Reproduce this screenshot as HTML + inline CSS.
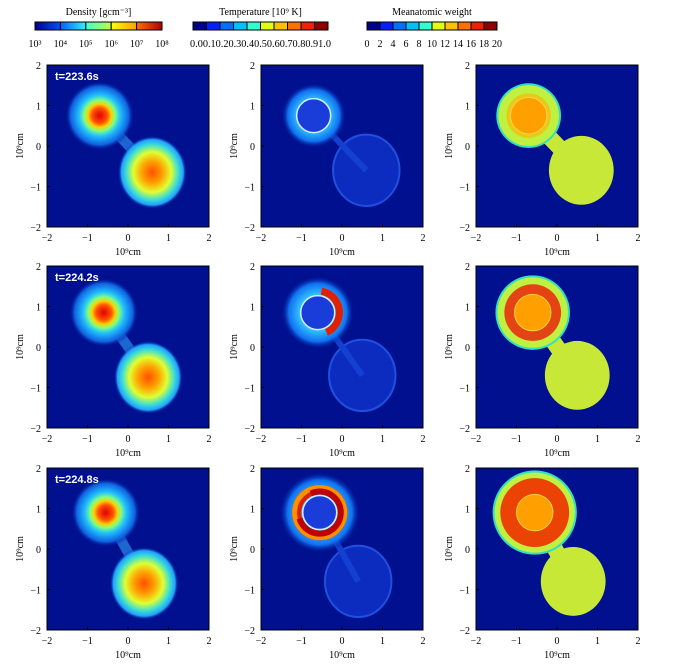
<!DOCTYPE html>
<html><head><meta charset="utf-8">
<style>
html,body{margin:0;padding:0;background:#fff;width:675px;height:666px;overflow:hidden}
svg{display:block;font-family:"Liberation Serif",serif}
</style></head>
<body>
<svg id="fig" width="675" height="666" viewBox="0 0 675 666" xmlns="http://www.w3.org/2000/svg">
<defs>
 <radialGradient id="dens1">
  <stop offset="0" stop-color="#e00000"/><stop offset="0.22" stop-color="#ff5000"/>
  <stop offset="0.34" stop-color="#ffd000"/><stop offset="0.45" stop-color="#80ff80"/>
  <stop offset="0.6" stop-color="#20c0ff"/><stop offset="0.85" stop-color="#1060e0"/>
  <stop offset="1" stop-color="#00108f" stop-opacity="0"/>
 </radialGradient>
 <radialGradient id="dens2">
  <stop offset="0" stop-color="#ff5000"/><stop offset="0.3" stop-color="#ffa000"/>
  <stop offset="0.55" stop-color="#e0ff30"/><stop offset="0.75" stop-color="#40e0d0"/>
  <stop offset="0.9" stop-color="#20a0ff"/><stop offset="1" stop-color="#00108f" stop-opacity="0"/>
 </radialGradient>
 <radialGradient id="temphalo">
  <stop offset="0.5" stop-color="#30c0ff"/><stop offset="0.8" stop-color="#1070f0"/>
  <stop offset="1" stop-color="#00108f" stop-opacity="0"/>
 </radialGradient>
 <linearGradient id="seg0" x1="0" x2="1"><stop offset="0" stop-color="#00008f"/><stop offset="1" stop-color="#0050ff"/></linearGradient>
 <linearGradient id="seg1" x1="0" x2="1"><stop offset="0" stop-color="#0060ff"/><stop offset="1" stop-color="#30f0ff"/></linearGradient>
 <linearGradient id="seg2" x1="0" x2="1"><stop offset="0" stop-color="#40ffd0"/><stop offset="1" stop-color="#c0ff40"/></linearGradient>
 <linearGradient id="seg3" x1="0" x2="1"><stop offset="0" stop-color="#ffff00"/><stop offset="1" stop-color="#ffa000"/></linearGradient>
 <linearGradient id="seg4" x1="0" x2="1"><stop offset="0" stop-color="#ff7000"/><stop offset="1" stop-color="#b00000"/></linearGradient>
</defs>
<g id="colorbars"></g>
<g id="panels"></g>
</svg>
<script>
// ---- data ----
var colTitles = ["Density [gcm\u207B\u00B3]", "Temperature [10\u2079 K]", "Meanatomic weight"];
var densTicks = ["10\u00B3","10\u2074","10\u2075","10\u2076","10\u2077","10\u2078"];
var tempTicks = ["0.0","0.1","0.2","0.3","0.4","0.5","0.6","0.7","0.8","0.9","1.0"];
var muTicks = ["0","2","4","6","8","10","12","14","16","18","20"];
var axisTicks = [-2,-1,0,1,2];
var times = ["t=223.6s","t=224.2s","t=224.8s"];
var star1X = [-0.7,-0.6,-0.55];
var star1Y = [0.75,0.85,0.9];
var star2X = [0.6,0.5,0.4];
var star2Y = [-0.6,-0.7,-0.8];
var hotLevel = [0.1,0.7,1.0];

var jet=["#00008f","#0020ff","#0070ff","#00c0ff","#30ffd0","#90ff70","#e0ff10","#ffc000","#ff7000","#f02000","#900000"];
var NS="http://www.w3.org/2000/svg";
function el(tag,attrs,parent,txt){var e=document.createElementNS(NS,tag);for(var k in attrs)e.setAttribute(k,attrs[k]);if(txt!==undefined)e.textContent=txt;parent.appendChild(e);return e;}

// ---- colorbars ----
var cb=document.getElementById('colorbars');
var cbX=[35,193,367],cbW=[127,135,130];
for(var c=0;c<3;c++){
 var g=el('g',{},cb);
 
 
 var t=el('text',{x:cbX[c]+cbW[c]/2,y:15,'text-anchor':'middle','font-size':'10'},g,colTitles[c]);
 
 
 var ticks=c==0?densTicks:(c==1?tempTicks:muTicks);
 var nseg=ticks.length-1;
 for(var i=0;i<nseg;i++){
  var segW=cbW[c]/nseg;
  var fill = c==0 ? 'url(#seg'+i+')' : jet[Math.round(i*10/(nseg-1))];
  var r=el('rect',{x:cbX[c]+i*segW,y:22,width:segW,height:8,fill:fill,stroke:'#000','stroke-width':1},g);
  
  
 }
 if(c==1){
  var tl=el('text',{x:cbX[c]+cbW[c]/2,y:47,'text-anchor':'middle','font-size':'10',textLength:cbW[c]+6,lengthAdjust:'spacingAndGlyphs'},g,tempTicks.join(''));
  
  
 } else {
  for(var i=0;i<ticks.length;i++){
   var tt=el('text',{x:cbX[c]+i*cbW[c]/nseg,y:47,'text-anchor':'middle','font-size':'10'},g,ticks[i]);
   
   
  }
 }
}

// ---- panels ----
var panelsG=document.getElementById('panels');
var colX=[47,261,476], rowY=[65,266,468], S=162;
function px(c,v){return colX[c]+(v+2)/4*S;}
function py(r,v){return rowY[r]+(2-v)/4*S;}
var U=S/4;
for(var r=0;r<3;r++)for(var c=0;c<3;c++){
 var g=el('g',{},panelsG);
 
 
 var cid='clip'+r+c;
 var cp=el('clipPath',{id:cid},g);el('rect',{x:colX[c],y:rowY[r],width:S,height:S},cp);
 var body=el('g',{'clip-path':'url(#'+cid+')'},g);
 el('rect',{x:colX[c],y:rowY[r],width:S,height:S,fill:'#00108f'},body);
 var x1=px(c,star1X[r]),y1=py(r,star1Y[r]),x2=px(c,star2X[r]),y2=py(r,star2Y[r]);
 if(c==0){
  el('line',{x1:x1,y1:y1,x2:x2,y2:y2,stroke:'#30a0ff','stroke-width':10,opacity:0.6},body);
  var a=el('circle',{cx:x1,cy:y1,r:0.85*U,fill:'url(#dens1)'},body);
  
  var b=el('ellipse',{cx:x2,cy:y2+2,rx:0.85*U,ry:0.9*U,fill:'url(#dens2)'},body);
  
 } else if(c==1){
  el('ellipse',{cx:x2,cy:y2,rx:0.82*U,ry:0.88*U,fill:'#0c2cc0',stroke:'#2050e0','stroke-width':2},body);
  el('line',{x1:x1,y1:y1,x2:x2,y2:y2,stroke:'#1440d0','stroke-width':6},body);
  el('circle',{cx:x1,cy:y1,r:(0.8+0.1*r)*U,fill:'url(#temphalo)'},body);
  if(hotLevel[r]>0.3){
   el('circle',{cx:x1,cy:y1,r:(0.45+0.12*hotLevel[r])*U,fill:'none',stroke:'#e02000','stroke-width':(0.18*hotLevel[r]+0.05)*U,'stroke-dasharray':(hotLevel[r]>0.9?'200 0':'55 200'),transform:'rotate(-80 '+x1+' '+y1+')'},body);
  }
  if(hotLevel[r]>0.9){
   el('circle',{cx:x1,cy:y1,r:0.62*U,fill:'none',stroke:'#ff9000','stroke-width':5},body);
   el('circle',{cx:x1,cy:y1,r:0.52*U,fill:'none',stroke:'#c00000','stroke-width':6,'stroke-dasharray':'60 30'},body);
  }
  el('circle',{cx:x1,cy:y1,r:0.42*U,fill:'#1a3cd8',stroke:'#d0f0ff','stroke-width':1.5},body);
 } else {
  el('ellipse',{cx:x2,cy:y2,rx:0.8*U,ry:0.85*U,fill:'#c8e838'},body);
  el('line',{x1:x1,y1:y1,x2:x2,y2:y2,stroke:'#c8e838','stroke-width':16},body);
  el('circle',{cx:x1,cy:y1,r:(0.8+0.12*r)*U,fill:'#30e0c0'},body);
  el('circle',{cx:x1,cy:y1,r:(0.75+0.12*r)*U,fill:'#c0f040'},body);
  el('circle',{cx:x1,cy:y1,r:(0.55+0.15*r)*U,fill:r==0?'#ffb000':(r==1?'#e83010':'#f03000'),opacity:r==0?0.6:0.9},body);
  var cr=el('circle',{cx:x1,cy:y1,r:0.45*U,fill:'#ffa000',stroke:'#ffd040','stroke-width':1},body);
  
 }
 el('rect',{x:colX[c],y:rowY[r],width:S,height:S,fill:'none',stroke:'#000','stroke-width':1},g);
 for(var i=0;i<axisTicks.length;i++){
  var v=axisTicks[i];
  var tx=el('text',{x:px(c,v),y:rowY[r]+S+14,'text-anchor':'middle','font-size':'10'},g,v<0?'\u2212'+(-v):String(v));
  
  var ty=el('text',{x:colX[c]-6,y:py(r,v)+4,'text-anchor':'end','font-size':'10'},g,v<0?'\u2212'+(-v):String(v));
  
  el('line',{x1:px(c,v),y1:rowY[r]+S,x2:px(c,v),y2:rowY[r]+S-3,stroke:'#000'},g);
  el('line',{x1:colX[c],y1:py(r,v),x2:colX[c]+3,y2:py(r,v),stroke:'#000'},g);
 }
 var xl=el('text',{x:colX[c]+S/2,y:rowY[r]+S+28,'text-anchor':'middle','font-size':'10'},g,'10\u2079cm');
 
 var yx=colX[c]-24,yy=rowY[r]+S/2;
 var yl=el('text',{x:yx,y:yy,'text-anchor':'middle','font-size':'10',transform:'rotate(-90 '+yx+' '+yy+')'},g,'10\u2079cm');
 
 if(c==0){
  var tl=el('text',{x:colX[c]+8,y:rowY[r]+15,'font-size':'11','font-weight':'bold',fill:'#fff','font-family':'Liberation Sans, sans-serif'},g,times[r]);
  
 }
}
</script>
</body></html>
